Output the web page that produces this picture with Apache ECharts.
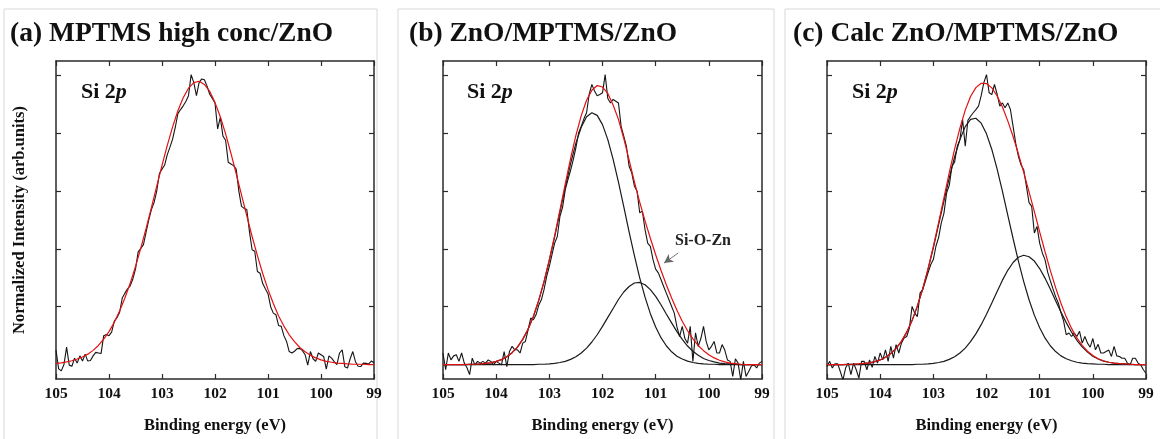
<!DOCTYPE html>
<html><head><meta charset="utf-8">
<script src="https://cdn.jsdelivr.net/npm/echarts@6/dist/echarts.min.js"></script>
<style>html,body{margin:0;padding:0;background:#fff}#c{width:1160px;height:439px}</style>
</head><body><div id="c"></div>
<script>
// ---------- DATA ----------
const energyRaw = [105.00,104.95,104.90,104.85,104.80,104.75,104.70,104.65,104.60,104.55,104.50,104.45,104.40,104.35,104.30,104.25,104.20,104.15,104.10,104.05,
104.00,103.95,103.90,103.85,103.80,103.75,103.70,103.65,103.60,103.55,103.50,103.45,103.40,103.35,103.30,103.25,103.20,103.15,103.10,103.05,
103.00,102.95,102.90,102.85,102.80,102.75,102.70,102.65,102.60,102.55,102.50,102.45,102.40,102.35,102.30,102.25,102.20,102.15,102.10,102.05,
102.00,101.95,101.90,101.85,101.80,101.75,101.70,101.65,101.60,101.55,101.50,101.45,101.40,101.35,101.30,101.25,101.20,101.15,101.10,101.05,
101.00,100.95,100.90,100.85,100.80,100.75,100.70,100.65,100.60,100.55,100.50,100.45,100.40,100.35,100.30,100.25,100.20,100.15,100.10,100.05,
100.00,99.95,99.90,99.85,99.80,99.75,99.70,99.65,99.60,99.55,99.50,99.45,99.40,99.35,99.30,99.25,99.20,99.15,99.10,99.05,99.00];

const energyFit = [105.0,104.9,104.8,104.7,104.6,104.5,104.4,104.3,104.2,104.1,104.0,103.9,103.8,103.7,103.6,103.5,103.4,103.3,103.2,103.1,
103.0,102.9,102.8,102.7,102.6,102.5,102.4,102.3,102.2,102.1,102.0,101.9,101.8,101.7,101.6,101.5,101.4,101.3,101.2,101.1,
101.0,100.9,100.8,100.7,100.6,100.5,100.4,100.3,100.2,100.1,100.0,99.9,99.8,99.7,99.6,99.5,99.4,99.3,99.2,99.1,99.0];

// (a) MPTMS high conc/ZnO
const rawA = [0.050,-0.015,-0.022,0.000,0.060,-0.002,-0.006,0.022,0.005,0.030,0.012,0.036,0.012,0.014,0.030,0.042,0.040,0.038,0.100,0.104,
0.100,0.112,0.150,0.162,0.180,0.230,0.247,0.262,0.272,0.296,0.330,0.390,0.402,0.415,0.458,0.500,0.536,0.560,0.600,0.660,
0.676,0.690,0.726,0.752,0.780,0.820,0.868,0.882,0.895,0.910,0.930,1.003,0.975,0.930,0.975,0.988,0.985,0.963,0.935,0.920,
0.905,0.815,0.855,0.790,0.776,0.700,0.694,0.688,0.676,0.600,0.547,0.540,0.536,0.460,0.397,0.392,0.322,0.316,0.280,0.262,
0.245,0.200,0.178,0.172,0.135,0.132,0.100,0.080,0.045,0.040,0.046,0.055,0.056,0.048,0.034,-0.002,0.045,0.020,0.011,0.040,
0.034,0.028,-0.016,0.030,0.022,0.010,0.000,0.040,0.051,-0.008,-0.012,0.020,0.045,0.010,-0.006,-0.007,0.005,0.004,0.002,0.012,0.006];
const fitA = [0.004,0.006,0.009,0.013,0.019,0.026,0.036,0.049,0.066,0.088,0.114,0.146,0.185,0.230,0.281,0.339,0.403,0.471,0.543,0.616,
0.689,0.758,0.822,0.878,0.923,0.956,0.975,0.980,0.969,0.945,0.906,0.857,0.798,0.731,0.660,0.587,0.514,0.443,0.377,0.315,
0.260,0.211,0.168,0.133,0.103,0.079,0.059,0.044,0.032,0.023,0.016,0.011,0.008,0.005,0.004,0.002,0.001,0.001,0.001,0.000,0.000];

// (b) ZnO/MPTMS/ZnO
const rawB = [0.040,-0.018,0.040,0.016,0.030,0.034,0.011,0.040,0.005,-0.010,-0.035,0.022,-0.001,0.011,0.005,0.011,0.005,0.016,0.011,-0.001,
0.011,0.005,-0.001,0.045,-0.007,0.045,0.063,0.051,0.051,0.040,0.074,0.080,0.120,0.161,0.155,0.172,0.205,0.224,0.259,0.305,
0.340,0.380,0.420,0.443,0.513,0.545,0.605,0.640,0.672,0.709,0.750,0.801,0.824,0.850,0.871,0.935,0.969,0.946,0.930,0.934,
0.940,1.003,0.920,0.905,0.917,0.911,0.905,0.824,0.790,0.755,0.686,0.663,0.617,0.600,0.525,0.530,0.467,0.420,0.409,0.363,
0.330,0.317,0.294,0.270,0.247,0.224,0.201,0.178,0.130,0.097,0.132,0.090,0.074,0.132,0.011,0.110,0.063,0.090,0.132,0.080,
0.051,0.063,0.080,0.040,0.040,0.069,0.050,0.016,0.011,-0.041,0.020,0.005,-0.053,0.011,-0.041,-0.024,-0.005,-0.001,-0.012,0.005,0.011];
const fitB = [0,0,0,0,0,0.001,0.001,0.002,0.004,0.006,0.011,0.017,0.027,0.041,0.060,0.087,0.122,0.166,0.222,0.287,
0.363,0.446,0.535,0.625,0.713,0.793,0.861,0.914,0.949,0.965,0.960,0.938,0.898,0.848,0.782,0.708,0.632,0.562,0.497,0.437,
0.380,0.326,0.276,0.230,0.188,0.150,0.117,0.089,0.066,0.048,0.034,0.023,0.015,0.009,0.005,0.003,0.001,0,0,0,0];
const mainB = [0,0,0,0,0,0.001,0.001,0.002,0.004,0.006,0.011,0.017,0.027,0.041,0.060,0.087,0.122,0.166,0.221,0.286,
0.361,0.442,0.528,0.614,0.695,0.766,0.821,0.857,0.871,0.862,0.830,0.778,0.710,0.631,0.546,0.459,0.377,0.300,0.233,0.176,
0.130,0.093,0.065,0.044,0.029,0.019,0.012,0.007,0.004,0.002,0.001,0.001,0,0,0,0,0,0,0,0,0];
const siOZnB = [0,0,0,0,0,0,0,0,0,0,0,0,0,0,0,0,0,0,0.001,0.001,
0.002,0.004,0.007,0.011,0.018,0.027,0.040,0.057,0.078,0.103,0.132,0.163,0.194,0.225,0.251,0.270,0.282,0.284,0.276,0.259,
0.236,0.207,0.175,0.144,0.114,0.087,0.064,0.046,0.032,0.021,0.014,0.009,0.005,0.003,0.002,0.001,0,0,0,0,0];

// (c) Calc ZnO/MPTMS/ZnO
const rawC = [-0.007,0.011,-0.012,0.003,0.003,-0.024,-0.053,-0.012,0.005,-0.035,0.005,-0.018,-0.047,0.011,0.011,-0.018,0.016,-0.010,0.028,0.005,
0.040,0.016,0.051,0.011,0.063,0.022,0.069,0.040,0.074,0.092,0.097,0.126,0.201,0.178,0.166,0.247,0.259,0.288,0.317,0.345,
0.363,0.410,0.440,0.490,0.524,0.594,0.620,0.686,0.700,0.755,0.778,0.848,0.755,0.845,0.859,0.871,0.882,0.894,0.930,0.975,
1.003,0.940,0.934,0.969,0.935,0.894,0.905,0.888,0.905,0.882,0.824,0.765,0.720,0.690,0.674,0.617,0.560,0.547,0.455,0.478,
0.420,0.386,0.363,0.320,0.290,0.262,0.235,0.213,0.180,0.150,0.103,0.109,0.097,0.109,0.097,0.115,0.074,0.097,0.074,0.060,
0.090,0.051,0.070,0.040,0.040,0.045,0.050,0.028,0.063,0.030,0.028,0.022,0.022,0.005,-0.001,0.022,0.022,0.005,-0.001,-0.018,-0.030];
const fitC = [0,0,0,0,0.001,0.001,0.002,0.004,0.006,0.010,0.016,0.025,0.038,0.056,0.080,0.112,0.152,0.203,0.262,0.331,
0.408,0.492,0.577,0.664,0.745,0.818,0.880,0.927,0.958,0.973,0.972,0.957,0.929,0.891,0.843,0.789,0.729,0.665,0.597,0.529,
0.459,0.391,0.326,0.266,0.212,0.165,0.125,0.092,0.066,0.046,0.031,0.020,0.013,0.008,0.005,0.003,0.002,0.001,0,0,0];
const mainC = [0,0,0,0,0.001,0.001,0.002,0.004,0.006,0.010,0.016,0.025,0.038,0.056,0.080,0.112,0.152,0.202,0.261,0.329,
0.404,0.485,0.566,0.646,0.718,0.778,0.823,0.848,0.852,0.835,0.798,0.744,0.676,0.599,0.517,0.436,0.358,0.287,0.224,0.171,
0.127,0.092,0.065,0.045,0.030,0.020,0.013,0.008,0.005,0.003,0.002,0.001,0.001,0,0,0,0,0,0,0,0];
const siOZnC = [0,0,0,0,0,0,0,0,0,0,0,0,0,0,0,0,0,0.001,0.001,0.002,
0.004,0.007,0.011,0.018,0.027,0.040,0.057,0.079,0.106,0.138,0.174,0.213,0.253,0.292,0.326,0.353,0.371,0.378,0.373,0.358,
0.332,0.299,0.261,0.221,0.182,0.145,0.112,0.084,0.061,0.043,0.029,0.019,0.012,0.008,0.005,0.003,0.002,0.001,0,0,0];

// ---------- TEXT ----------
const panelTitles = ['(a) MPTMS high conc/ZnO', '(b) ZnO/MPTMS/ZnO', '(c) Calc ZnO/MPTMS/ZnO'];
const xAxisName = 'Binding energy (eV)';
const yAxisName = 'Normalized Intensity (arb.units)';
const yTickValues = [0.2, 0.4, 0.6, 0.8, 1.0];
const peakName = 'Si-O-Zn';
const arrowStart = [100.575, 0.386];
const arrowEnd = [100.843, 0.351];

// ---------- CHART ----------
const SERIF = "'Liberation Serif','DejaVu Serif',serif";
const FRAME = '#2a2a2a';
const grids = [
  {left: 56, top: 61, width: 318, height: 318},
  {left: 443, top: 61, width: 319, height: 318},
  {left: 827, top: 61, width: 319, height: 318}
];
const pair = (xs, ys) => xs.map((x, i) => [x, ys[i]]);

const xAxes = [], yAxes = [];
grids.forEach((g, gi) => {
  ['bottom', 'top'].forEach(pos => {
    xAxes.push({
      gridIndex: gi, type: 'value', position: pos, min: 99, max: 105, interval: 1, inverse: true,
      axisLine: {show: true, onZero: false, lineStyle: {color: FRAME, width: 1.5}},
      axisTick: {show: true, inside: true, length: 5, lineStyle: {color: FRAME, width: 1.2}},
      axisLabel: {show: pos === 'bottom', margin: 7, color: '#111', fontFamily: SERIF, fontWeight: 'bold', fontSize: 15.5,
        formatter: v => String(Math.round(v))},
      splitLine: {show: false},
      name: pos === 'bottom' ? xAxisName : '', nameLocation: 'middle', nameGap: 38,
      nameTextStyle: {color: '#111', fontFamily: SERIF, fontWeight: 'bold', fontSize: 16.5}
    });
  });
  ['left', 'right'].forEach(pos => {
    yAxes.push({
      gridIndex: gi, type: 'value', position: pos, min: -0.05, max: 1.05,
      axisLine: {show: true, onZero: false, lineStyle: {color: FRAME, width: 1.5}},
      axisTick: {show: true, inside: true, length: 5, customValues: yTickValues, lineStyle: {color: FRAME, width: 1.2}},
      axisLabel: {show: false},
      splitLine: {show: false},
      name: (gi === 0 && pos === 'left') ? yAxisName : '', nameLocation: 'middle', nameGap: 28, nameRotate: 90,
      nameTextStyle: {color: '#111', fontFamily: SERIF, fontWeight: 'bold', fontSize: 16.5}
    });
  });
});

function line(gi, data, color, width, z) {
  return {type: 'line', xAxisIndex: gi * 2, yAxisIndex: gi * 2, data: data, showSymbol: false, symbol: 'none',
    lineStyle: {color: color, width: width}, itemStyle: {color: color}, z: z, silent: true, animation: false};
}

const series = [
  line(0, pair(energyRaw, rawA), '#151515', 1.1, 2),
  line(0, pair(energyFit, fitA), '#e41010', 1.2, 4),
  line(1, pair(energyRaw, rawB), '#151515', 1.1, 2),
  line(1, pair(energyFit, mainB), '#1a1a1a', 1.2, 3),
  line(1, pair(energyFit, siOZnB), '#1a1a1a', 1.2, 3),
  line(1, pair(energyFit, fitB), '#e41010', 1.2, 4),
  line(2, pair(energyRaw, rawC), '#151515', 1.1, 2),
  line(2, pair(energyFit, mainC), '#1a1a1a', 1.2, 3),
  line(2, pair(energyFit, siOZnC), '#1a1a1a', 1.2, 3),
  line(2, pair(energyFit, fitC), '#e41010', 1.2, 4)
];
series[5].markLine = {
  silent: true, symbol: ['none', 'arrow'], symbolSize: [7, 9], animation: false,
  lineStyle: {color: '#666', width: 0.9, type: 'solid'}, label: {show: false},
  data: [[{coord: arrowStart}, {coord: arrowEnd}]]
};

const si2pX = [81, 467, 852];
const graphic = [
  {type: 'rect', shape: {x: 4, y: 9, width: 373, height: 440}, style: {fill: 'none', stroke: '#d8d8d8', lineWidth: 1}, z: -1},
  {type: 'rect', shape: {x: 398, y: 9, width: 376, height: 440}, style: {fill: 'none', stroke: '#d8d8d8', lineWidth: 1}, z: -1},
  {type: 'rect', shape: {x: 785, y: 9, width: 390, height: 440}, style: {fill: 'none', stroke: '#d8d8d8', lineWidth: 1}, z: -1}
];
si2pX.forEach(x => graphic.push({
  type: 'text', x: x, y: 92, z: 10,
  style: {text: '{n|Si 2}{i|p}', verticalAlign: 'middle',
    rich: {n: {fontFamily: SERIF, fontWeight: 'bold', fontSize: 22, fill: '#111'},
           i: {fontFamily: SERIF, fontWeight: 'bold', fontStyle: 'italic', fontSize: 22, fill: '#111'}}}
}));
graphic.push({type: 'text', x: 675, y: 241, z: 10,
  style: {text: peakName, verticalAlign: 'middle', fontFamily: SERIF, fontWeight: 'bold', fontSize: 16, fill: '#222'}});

const titleLeft = [10, 409, 793];
const option = {
  backgroundColor: '#fff',
  animation: false,
  title: panelTitles.map((t, i) => ({text: t, left: titleLeft[i], top: 20, padding: 0,
    textStyle: {fontFamily: SERIF, fontWeight: 'bold', fontSize: 27.5, color: '#111'}})),
  grid: grids.map(g => Object.assign({containLabel: false, outerBoundsMode: 'none'}, g)),
  xAxis: xAxes,
  yAxis: yAxes,
  series: series,
  graphic: graphic
};
const chart = echarts.init(document.getElementById('c'), null, {renderer: 'canvas'});
chart.setOption(option);
</script>
</body></html>
